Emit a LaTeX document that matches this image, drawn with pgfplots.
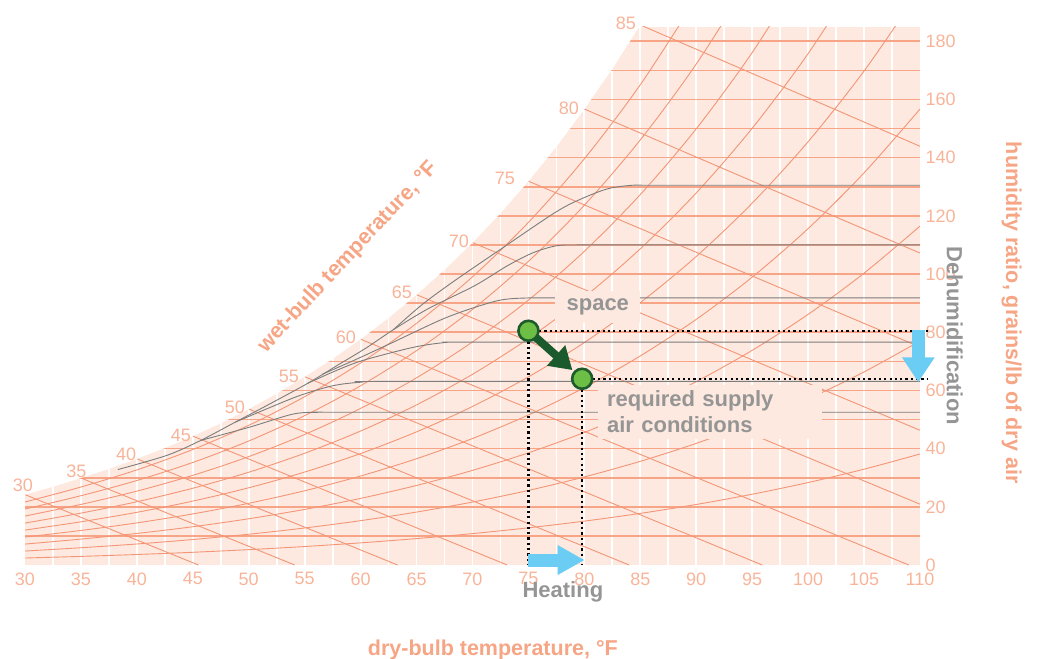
\documentclass[border=0pt]{standalone}
\usepackage{pgfplots}
\pgfplotsset{compat=1.18}
\usepackage{fontspec}
\setmainfont{Liberation Sans}
\usetikzlibrary{arrows.meta}
\definecolor{shade}{HTML}{FDE9DF}
\definecolor{hline}{HTML}{F7A487}
\definecolor{cline}{HTML}{F39576}
\definecolor{ticklab}{HTML}{F8B499}
\definecolor{titlecol}{HTML}{F6A585}
\definecolor{graycurve}{HTML}{7D7D7D}
\definecolor{annot}{HTML}{959595}
\definecolor{skyblue}{HTML}{6BCDF3}
\definecolor{ptfill}{HTML}{6DBE45}
\definecolor{ptdraw}{HTML}{1E5B2C}
\definecolor{arrowgreen}{HTML}{1A5A2D}
\newcommand{\tickfont}{\fontsize{18}{20}\selectfont}
\newcommand{\titlefont}{\fontsize{21.5}{24}\selectfont\bfseries}
\newcommand{\annfont}{\fontsize{22}{26}\selectfont\bfseries}
\begin{document}
\begin{tikzpicture}
\useasboundingbox (-25pt,-94pt) rectangle (1012pt,565pt);
\begin{axis}[
  scale only axis, width=895pt, height=538.3pt,
  xmin=30, xmax=110, ymin=0, ymax=185,
  clip mode=individual,
  axis line style={draw=none}, tick style={draw=none}, major tick length=0pt,
  xtick={30,35,...,110}, ytick={0,20,...,180},
  yticklabel pos=right,
  ticklabel style={font=\tickfont, text=ticklab},
  xticklabel style={yshift=-4pt},
  yticklabel style={xshift=2pt},
  /pgf/number format/assume math mode=true,
]
% background
\addplot[fill=shade, draw=none, forget plot] coordinates {(30,0) (110,0) (110,185) (30,185)} -- cycle;
% dry-bulb grid (white)
\addplot[ycomb, draw=white, line width=1.8pt, forget plot] coordinates {
(32.5,185) (35,185) (37.5,185) (40,185) (42.5,185) (45,185) (47.5,185) (50,185) (52.5,185) (55,185)
(57.5,185) (60,185) (62.5,185) (65,185) (67.5,185) (70,185) (72.5,185) (75,185) (77.5,185) (80,185)
(82.5,185) (85,185) (87.5,185) (90,185) (92.5,185) (95,185) (97.5,185) (100,185) (102.5,185) (105,185) (107.5,185)};
% humidity ratio grid
\addplot[xcomb, draw=hline, line width=1.6pt, forget plot] coordinates {
(110,10) (110,20) (110,30) (110,40) (110,50) (110,60) (110,70) (110,80) (110,90) (110,100)
(110,110) (110,120) (110,130) (110,140) (110,150) (110,160) (110,170) (110,180)};
% relative humidity curves 10..90 %
\pgfplotsset{rh/.style={draw=cline, line width=0.9pt, smooth, forget plot}}
\addplot[rh] coordinates {(30,2.40) (35,2.96) (40,3.61) (45,4.37) (50,5.28) (55,6.35) (60,7.61) (65,9.08) (70,10.79) (75,12.78) (80,15.08) (85,17.74) (90,20.80) (95,24.32) (100,28.34) (105,32.93) (110,38.14)};
\addplot[rh] coordinates {(30,4.79) (35,5.93) (40,7.22) (45,8.76) (50,10.58) (55,12.72) (60,15.24) (65,18.19) (70,21.63) (75,25.63) (80,30.27) (85,35.63) (90,41.80) (95,48.90) (100,57.05) (105,66.36) (110,76.97)};
\addplot[rh] coordinates {(30,7.19) (35,8.90) (40,10.85) (45,13.15) (50,15.89) (55,19.11) (60,22.90) (65,27.34) (70,32.52) (75,38.56) (80,45.56) (85,53.66) (90,63.01) (95,73.78) (100,86.14) (105,100.30) (110,116.47)};
\addplot[rh] coordinates {(30,9.60) (35,11.87) (40,14.47) (45,17.55) (50,21.21) (55,25.52) (60,30.59) (65,36.53) (70,43.47) (75,51.56) (80,60.96) (85,71.85) (90,84.42) (95,98.93) (100,115.61) (105,134.77) (110,156.70)};
\addplot[rh] coordinates {(30,12.00) (35,14.85) (40,18.10) (45,21.96) (50,26.54) (55,31.95) (60,38.30) (65,45.76) (70,54.48) (75,64.65) (80,76.47) (85,90.18) (90,106.04) (95,124.36) (100,145.48) (105,169.77) (110,197.65)};
\addplot[rh] coordinates {(30,14.41) (35,17.83) (40,21.74) (45,26.38) (50,31.89) (55,38.40) (60,46.04) (65,55.03) (70,65.54) (75,77.81) (80,92.09) (85,108.67) (90,127.87) (95,150.09) (100,175.75) (105,205.32)};
\addplot[rh] coordinates {(30,16.82) (35,20.82) (40,25.39) (45,30.81) (50,37.25) (55,44.86) (60,53.81) (65,64.34) (70,76.66) (75,91.04) (80,107.82) (85,127.31) (90,149.91) (95,176.12) (100,206.43)};
\addplot[rh] coordinates {(30,19.24) (35,23.81) (40,29.04) (45,35.24) (50,42.62) (55,51.34) (60,61.61) (65,73.68) (70,87.83) (75,104.36) (80,123.66) (85,146.10) (90,172.17) (95,202.45)};
\addplot[rh] coordinates {(30,21.65) (35,26.80) (40,32.69) (45,39.69) (50,48.01) (55,57.85) (60,69.43) (65,83.07) (70,99.05) (75,117.76) (80,139.61) (85,165.06) (90,194.66)};
% wet-bulb lines
\pgfplotsset{wb/.style={draw=cline, line width=0.9pt, forget plot}}
\addplot[wb] coordinates {(30,24.2) (45.5,0)};
\addplot[wb] coordinates {(35,29.9) (54.1,0)};
\addplot[wb] coordinates {(40,36.5) (63.3,0)};
\addplot[wb] coordinates {(45,44.3) (73.1,0)};
\addplot[wb] coordinates {(50,53.6) (84.0,0)};
\addplot[wb] coordinates {(55,64.7) (95.9,0)};
\addplot[wb] coordinates {(60,77.6) (109.0,0)};
\addplot[wb] coordinates {(65,92.9) (110,20.9)};
\addplot[wb] coordinates {(70,110.8) (110,46.3)};
\addplot[wb] coordinates {(75,131.9) (110,74.9)};
\addplot[wb] coordinates {(80,156.7) (110,107.2)};
\addplot[wb] coordinates {(85,185.6) (110,143.9)};
% gray curves
\pgfplotsset{gc/.style={draw=graycurve, line width=0.9pt, smooth, forget plot}}
\addplot[gc] coordinates {(38.3,32.8) (42.7,37.7) (45.7,42.8) (48.8,49.1) (52.0,55.6) (55.3,62.5) (58.0,68.8) (60.5,74.6) (62.9,80.8) (66.0,88.0) (70.2,96.0) (73.1,102.8) (75.4,107.3) (77.5,109.7) (79.6,110) (85,110) (110,110)};
\addplot[gc] coordinates {(62.9,80.8) (65.5,89.5) (68.4,97.7) (72.7,109.0) (77.2,120.7) (79.3,125.1) (82.0,129.2) (84.3,130.5) (87,130.5) (110,130.5)};
\addplot[gc] coordinates {(45.7,42.8) (50.1,47.4) (54.0,51.9) (56.5,52.5) (60,52.5) (110,52.5)};
\addplot[gc] coordinates {(48.8,49.1) (52.0,54.3) (54.6,58.3) (57.5,61.6) (60.0,62.8) (63.5,63.1) (110,63.1)};
\addplot[gc] coordinates {(55.3,62.5) (57.8,66.8) (60.2,70.3) (64.7,74.8) (67.7,76.5) (70.7,76.6) (110,76.6)};
\addplot[gc] coordinates {(56.6,65.6) (59.5,70.5) (62.6,76.0) (67.7,85.1) (72.2,90.8) (75.1,91.8) (78,91.8) (110,91.8)};
% mask above the saturation curve
\addplot[fill=white, draw=none, forget plot] coordinates {(30,24.2) (32.5,26.9) (35,29.9) (37.5,33.03) (40,36.5) (42.5,40.21) (45,44.3) (47.5,48.73) (50,53.6) (52.5,58.89) (55,64.7) (57.5,70.86) (60,77.6) (62.5,84.91) (65,92.9) (67.5,101.46) (70,110.8) (72.5,120.89) (75,131.9) (77.5,143.77) (80,156.7) (82.5,170.54) (85,185.6) (87.5,201.8) (90,219.4) (30,219.4)} -- cycle;
% label boxes
\node[fill=shade, inner sep=0pt, minimum width=85pt, minimum height=32pt, font=\annfont, text=annot] at (axis cs:81.2,88.8) {space};
\node[fill=shade, anchor=north west, text width=206pt, inner xsep=9pt, inner ysep=3pt, minimum height=54pt, align=left, font=\annfont, text=annot] at (axis cs:81.21,62.05) {required supply\\air conditions};
% guide lines
\draw[black, line width=2.2pt, dash pattern=on 2.2pt off 3.1pt] (axis cs:75,80.5) -- (axis cs:110.7,80.5);
\draw[black, line width=2.2pt, dash pattern=on 2.2pt off 3.1pt] (axis cs:79.8,64) -- (axis cs:110.7,64);
\draw[black, line width=2.2pt, dash pattern=on 2.2pt off 3.1pt] (axis cs:75,80.5) -- (axis cs:75,0);
\draw[black, line width=2.2pt, dash pattern=on 2.2pt off 3.1pt] (axis cs:79.8,64) -- (axis cs:79.8,0);
% process arrow and points
\draw[arrowgreen, line width=8pt, -{Triangle[length=22pt,width=26pt]}, shorten <=5pt, shorten >=13pt] (axis cs:75,80.5) -- (axis cs:79.8,64);
\addplot[only marks, mark=*, mark size=10pt, mark options={fill=ptfill, draw=ptdraw, line width=2.6pt}, forget plot] coordinates {(75,80.5) (79.8,64)};
% blue arrows
\draw[skyblue, line width=13pt, -{Triangle[length=27pt,width=28pt]}] (axis cs:75,1.7) -- (axis cs:80.02,1.7);
\draw[skyblue, line width=13pt, -{Triangle[length=25pt,width=31pt]}] (axis cs:109.85,80.6) -- (axis cs:109.85,62.8);
% wet-bulb temperature labels
\begin{scope}[every node/.style={font=\tickfont, text=ticklab}]
\node at (axis cs:29.82,27.4) {30};
\node at (axis cs:34.60,32.05) {35};
\node at (axis cs:39.03,37.9) {40};
\node at (axis cs:43.94,44.7) {45};
\node at (axis cs:48.77,54.3) {50};
\node at (axis cs:53.59,64.8) {55};
\node at (axis cs:58.69,78.2) {60};
\node at (axis cs:63.69,93.8) {65};
\node at (axis cs:68.78,111.4) {70};
\node at (axis cs:72.90,132.8) {75};
\node at (axis cs:78.61,156.8) {80};
\node at (axis cs:83.71,186.3) {85};
\end{scope}
% titles
\node[rotate=47, font=\titlefont, text=titlecol] at (axis cs:58.9,105.8) {wet-bulb temperature, °F};
\node[font=\titlefont, text=titlecol] at (axis cs:71.82,-29.1) {dry-bulb temperature, °F};
\node[rotate=-90, font=\titlefont, text=titlecol] at (axis cs:118.2,86.7) {humidity ratio, grains/lb of dry air};
\node[rotate=-90, font=\annfont, text=annot] at (axis cs:113.1,78.8) {Dehumidification};
\node[font=\annfont, text=annot] at (axis cs:78.08,-9.4) {Heating};
\end{axis}
\end{tikzpicture}
\end{document}
